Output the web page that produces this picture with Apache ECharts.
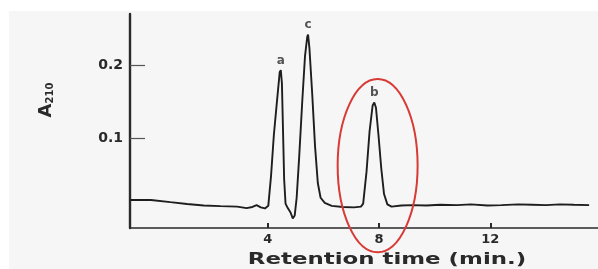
<!DOCTYPE html>
<html>
<head>
<meta charset="utf-8">
<script src="https://cdn.jsdelivr.net/npm/echarts@6/dist/echarts.min.js"></script>
<style>
  html, body { margin: 0; padding: 0; background: #ffffff; }
  #bg { position: absolute; left: 9px; top: 11px; width: 589px; height: 258px; background: #f6f6f6; }
  #chart { position: absolute; left: 0; top: 0; width: 598px; height: 269px; }
</style>
</head>
<body>
<div id="bg"></div>
<div id="chart"></div>
<script>
// Chromatogram trace (retention time in min, absorbance A210)
const retentionTime = [-0.95, -0.2, 0.5, 1.1, 1.7, 2.3, 2.9, 3.24, 3.45, 3.6, 3.75, 3.9,
  4.02, 4.12, 4.22, 4.33, 4.43, 4.47, 4.51, 4.55, 4.59, 4.64, 4.72, 4.82, 4.9, 4.97,
  5.04, 5.13, 5.24, 5.34, 5.42, 5.45, 5.5, 5.6, 5.7, 5.8, 5.9, 6.05, 6.3, 6.7, 7.1,
  7.35, 7.43, 7.55, 7.66, 7.77, 7.83, 7.89, 7.98, 8.08, 8.18, 8.3, 8.45, 8.8, 9.2,
  9.7, 10.2, 10.8, 11.3, 11.9, 12.4, 13.0, 13.5, 14.0, 14.5, 15.0, 15.55];
const absorbance = [0.017, 0.017, 0.014, 0.0115, 0.0095, 0.0087, 0.008, 0.006, 0.0075, 0.010, 0.007, 0.0055,
  0.009, 0.05, 0.105, 0.150, 0.190, 0.193, 0.175, 0.11, 0.045, 0.012, 0.006, 0.0, -0.008, -0.004,
  0.02, 0.075, 0.150, 0.212, 0.238, 0.241, 0.222, 0.16, 0.09, 0.04, 0.02, 0.013, 0.009, 0.0075, 0.007,
  0.008, 0.012, 0.055, 0.11, 0.145, 0.149, 0.142, 0.105, 0.06, 0.025, 0.011, 0.008, 0.0095, 0.010,
  0.0095, 0.0105, 0.010, 0.011, 0.0095, 0.010, 0.011, 0.0105, 0.010, 0.011, 0.0105, 0.010];

// Peak annotations
const peakNames = ['a', 'c', 'b'];
const peakTimes = [4.47, 5.45, 7.83];
const peakHeights = [0.193, 0.241, 0.149];

// Axis ticks
const xTicks = [4, 8, 12];
const yTicks = [0.1, 0.2];

// Highlight ellipse around peak b (data units)
const highlightCenter = [7.95, 0.0636];
const highlightRadius = [1.437, 0.1174];

const FONT = 'DejaVu Sans';
const chart = echarts.init(document.getElementById('chart'), null, { renderer: 'canvas' });

const option = {
  animation: false,
  grid: { left: 130, right: 0, top: 14, bottom: 41 },
  xAxis: {
    type: 'value', min: -0.95, max: 15.87,
    axisLine: { onZero: false, lineStyle: { color: '#2a2a2a', width: 1.6 } },
    axisTick: { inside: true, length: 5, customValues: xTicks, lineStyle: { color: '#2a2a2a', width: 2 } },
    axisLabel: { customValues: xTicks, margin: 5, color: '#2a2a2a', fontFamily: FONT, fontWeight: 'bold', fontSize: 13 },
    splitLine: { show: false }
  },
  yAxis: {
    type: 'value', min: -0.021, max: 0.269,
    axisLine: { onZero: false, lineStyle: { color: '#2a2a2a', width: 2.4 } },
    axisTick: { inside: true, length: 15, customValues: yTicks, lineStyle: { color: '#555', width: 1.2 } },
    axisLabel: { customValues: yTicks, margin: 7, color: '#2a2a2a', fontFamily: FONT, fontWeight: 'bold', fontSize: 14 },
    splitLine: { show: false }
  },
  series: [
    {
      type: 'line',
      data: retentionTime.map((t, i) => [t, absorbance[i]]),
      symbol: 'none',
      lineStyle: { color: '#1e1e1e', width: 1.9 },
      z: 3
    },
    {
      type: 'scatter',
      data: peakTimes.map((t, i) => [t, peakHeights[i], peakNames[i]]),
      symbolSize: 1,
      itemStyle: { color: 'rgba(0,0,0,0)' },
      label: {
        show: true, position: 'top', distance: 3,
        formatter: p => p.value[2],
        color: '#2a2a2a', fontFamily: FONT, fontWeight: 'bold', fontSize: 12
      },
      z: 4
    }
  ]
};
chart.setOption(option);

const c = chart.convertToPixel({ gridIndex: 0 }, highlightCenter);
const e = chart.convertToPixel({ gridIndex: 0 }, [highlightCenter[0] + highlightRadius[0], highlightCenter[1] + highlightRadius[1]]);

chart.setOption({
  graphic: [
    {
      type: 'ellipse',
      shape: { cx: c[0], cy: c[1], rx: Math.abs(e[0] - c[0]), ry: Math.abs(c[1] - e[1]) },
      style: { fill: 'none', stroke: '#d83a36', lineWidth: 2 },
      z: 10
    },
    {
      type: 'text',
      x: 387, y: 260, scaleX: 1.43,
      style: {
        text: 'Retention time (min.)',
        font: 'bold 16px "DejaVu Sans"',
        fill: '#2a2a2a', textAlign: 'center', textVerticalAlign: 'middle'
      }
    },
    {
      type: 'text',
      x: 45, y: 100, rotation: Math.PI / 2,
      style: {
        text: '{a|A}{s|210}',
        textAlign: 'center', textVerticalAlign: 'middle',
        rich: {
          a: { fontFamily: FONT, fontWeight: 'bold', fontSize: 18, fill: '#2a2a2a', verticalAlign: 'bottom', lineHeight: 20 },
          s: { fontFamily: FONT, fontWeight: 'bold', fontSize: 10, fill: '#2a2a2a', verticalAlign: 'bottom', lineHeight: 14 }
        }
      }
    }
  ]
});
</script>
</body>
</html>
